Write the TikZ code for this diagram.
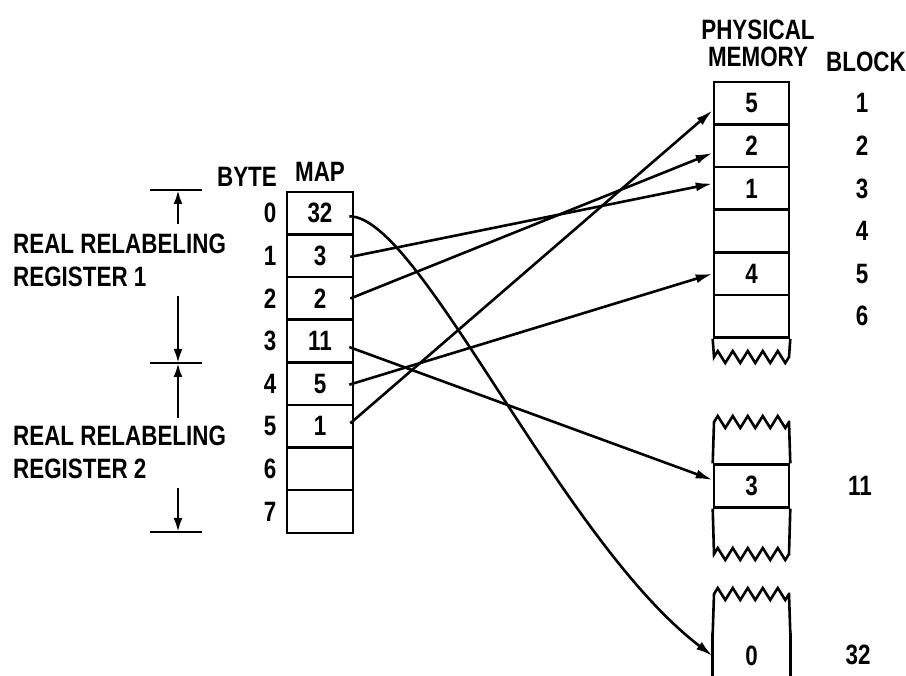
\documentclass[tikz,border=0pt]{standalone}
\usepackage{fontspec}
\setmainfont{Liberation Sans}[FakeStretch=0.8]
\usetikzlibrary{arrows.meta,decorations.pathmorphing}
\begin{document}
\begin{tikzpicture}[x=1pt,y=-1pt,
  txt/.style={font=\fontsize{28}{33}\selectfont\bfseries, inner sep=0pt},
  cell/.style={draw, line width=2.6pt, minimum width=66pt, minimum height=42.6pt, inner sep=0pt, font=\fontsize{28}{33}\selectfont\bfseries},
  mcell/.style={cell, minimum width=75pt},
  ocell/.style={mcell, draw=none},
  edge/.style={line width=2.6pt},
  arr/.style={line width=2.6pt, -{Latex[length=17pt,width=9pt]}},
  dim/.style={line width=2.6pt, -{Latex[length=14pt,width=9pt]}},
  zz/.style={decorate, decoration={zigzag, segment length=15pt, amplitude=6pt}}]
\useasboundingbox (0,0) rectangle (906,676);

% headings
\node[txt] (byte) at (247,177) {BYTE};
\node[txt] (map) at (320,172) {MAP};
\node[txt] (phys) at (758,30) {PHYSICAL};
\node[txt] (mem) at (758,57) {MEMORY};
\node[txt] (block) at (866,62) {BLOCK};

% map cells and byte numbers
\foreach \i/\v in {0/32,1/3,2/2,3/11,4/5,5/1,6/,7/} {
  \node[cell] (b\i) at (320,{213.3+42.6*\i}) {\v};
  \node[txt] (n\i) at (270,{213.3+42.6*\i}) {\i};
}

% physical memory, first segment
\foreach \k/\v in {1/5,2/2,3/1,4/,5/4,6/} {
  \node[mcell] (m\k) at (751.5,{82+42.6*(\k-0.5)}) {\v};
  \node[txt] (k\k) at (862,{82+42.6*(\k-0.5)}) {\k};
}
\draw[edge] (m6.south west) -- (714,357) decorate[zz]{-- (789,357)} -- (m6.south east);

% second segment
\node[mcell] (m11) at (751.5,486) {3};
\node[txt] (k11) at (860,486) {11};
\draw[edge] (m11.north west) -- (714,422) decorate[zz]{-- (789,422)} -- (m11.north east);
\draw[edge] (m11.south west) -- (714,554) decorate[zz]{-- (789,554)} -- (m11.south east);

% third segment
\node[ocell] (m32) at (751.5,656) {0};
\node[txt] (k32) at (858,655) {32};
\draw[edge] (m32.north west) -- (714,594) decorate[zz]{-- (789,594)} -- (m32.north east);
\draw[edge] (m32.north west) -- (m32.south west);
\draw[edge] (m32.north east) -- (m32.south east);

% mapping arrows
\draw[arr] ([xshift=-5pt,yshift=-3pt]b0.east) .. controls (420,216) and (560,540) .. (m32.west);
\draw[arr] ([xshift=-4pt,yshift=-1pt]b1.east) -- ([yshift=5pt]m3.west);
\draw[arr] ([xshift=-4pt]b2.east) -- ([yshift=-7pt]m2.west);
\draw[arr] ([xshift=-5pt,yshift=-6pt]b3.east) -- ([yshift=6pt]m11.west);
\draw[arr] ([xshift=-5pt,yshift=-1pt]b4.east) -- (m5.west);
\draw[arr] ([xshift=-4pt,yshift=3pt]b5.east) -- ([yshift=-7pt]m1.west);

% dimension marks
\coordinate (t0) at (178,190);
\coordinate (t1) at (178,363);
\coordinate (t2) at (178,532);
\foreach \t in {t0,t1,t2} \draw[edge] ([xshift=-28pt]\t) -- ([xshift=24pt]\t);
\draw[dim] (178,224) -- (t0);
\draw[dim] (178,296) -- (t1);
\draw[dim] (178,418) -- (t1);
\draw[dim] (178,488) -- (t2);

% register labels
\node[txt, anchor=west, align=left] (r1) at (13,260) {REAL RELABELING\\REGISTER 1};
\node[txt, anchor=west, align=left] (r2) at (13,452) {REAL RELABELING\\REGISTER 2};
\end{tikzpicture}
\end{document}
